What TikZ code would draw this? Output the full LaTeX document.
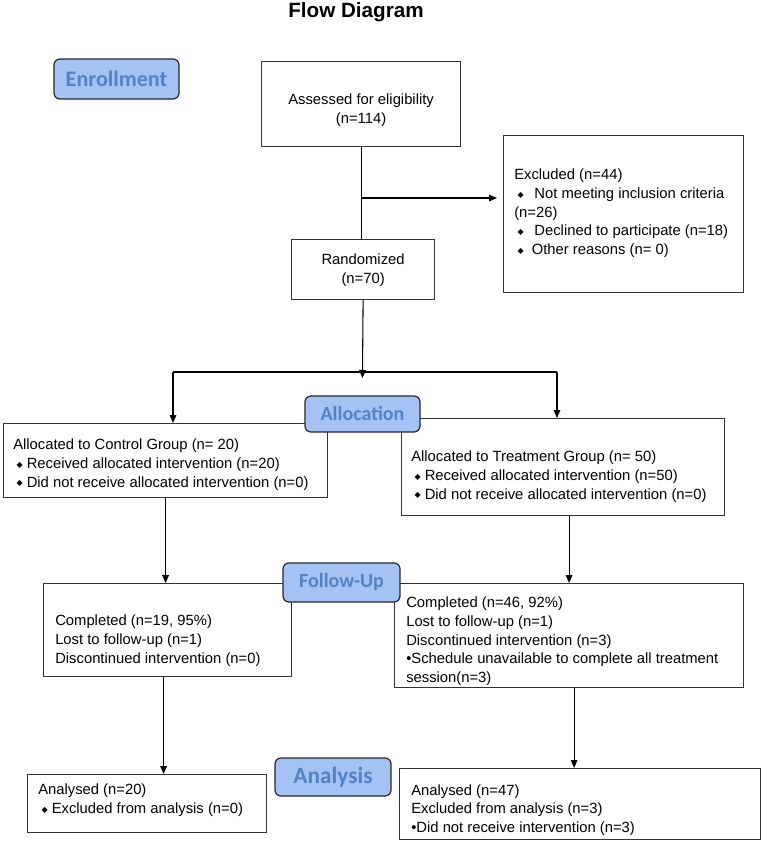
\documentclass[tikz,border=0pt]{standalone}
\usepackage{fontspec}
\setmainfont{Liberation Sans}
\newfontfamily\phasefont{Carlito}
\newfontfamily\symfont{DejaVu Sans}
\usetikzlibrary{arrows.meta, positioning, calc}
\definecolor{phaseblue}{RGB}{164, 194, 244}
\definecolor{phasetext}{RGB}{84, 130, 194}
\definecolor{boxgray}{RGB}{51, 51, 51}
\newcommand{\dmd}[1][3pt]{\hspace*{2.5pt}\raisebox{1pt}{\symfont\fontsize{6}{6}\selectfont ◆}\hspace{#1}}

\begin{document}
\begin{tikzpicture}[
    x=0.75pt, y=-0.75pt,
    box/.style={draw=boxgray, line width=0.9pt, anchor=north west, inner sep=0pt},
    phase/.style={draw=black!85, fill=phaseblue, rounded corners=4.5pt, line width=0.9pt, inner sep=0pt, text=phasetext, font=\phasefont\bfseries\fontsize{15}{15}\selectfont},
    body/.style={inner sep=0pt, align=left, font=\fontsize{11.1}{14}\selectfont},
    conn/.style={line width=0.8pt, -{Triangle[length=6pt, width=5pt]}},
    line/.style={line width=0.8pt}
]
    \useasboundingbox (0,0) rectangle (762,841);

    % Title
    \node[font=\bfseries\fontsize{15.5}{15.5}\selectfont] (title) at (356,12) {Flow Diagram};

    % Boxes
    \node[box, minimum width=149.25pt, minimum height=63.75pt] (assess) at (261,61) {};
    \node[box, minimum width=180pt, minimum height=117.75pt] (excl) at (503,135) {};
    \node[box, minimum width=107.25pt, minimum height=45pt] (rand) at (291,239) {};
    \node[box, minimum width=243pt, minimum height=55.5pt] (ctrl) at (3,423) {};
    \node[box, minimum width=242.25pt, minimum height=72.75pt] (treat) at (401,418) {};
    \node[box, minimum width=186pt, minimum height=69.75pt] (fuctrl) at (43,583) {};
    \node[box, minimum width=261.75pt, minimum height=78pt] (futreat) at (394,583) {};
    \node[box, minimum width=179.25pt, minimum height=43.5pt] (anctrl) at (27,774) {};
    \node[box, minimum width=270.75pt, minimum height=53.25pt] (antreat) at (399,768) {};

    % Box texts
    \node[body, align=center, below=24.75pt of assess.north] (assesstxt) {Assessed for eligibility\\(n=114)};
    \node[body, below right=25.5pt and 8.25pt of excl.north west] (excltxt) {Excluded (n=44)\\\dmd[8pt]Not meeting inclusion criteria\\(n=26)\\\dmd[8pt]Declined to participate (n=18)\\\dmd[6pt]Other reasons (n= 0)};
    \node[body, align=center, below=11.25pt of rand.north] (randtxt) {Randomized\\(n=70)};
    \node[body, below right=12pt and 7.5pt of ctrl.north west] (ctrltxt) {Allocated to Control Group (n= 20)\\\dmd Received allocated intervention (n=20)\\\dmd Did not receive allocated intervention (n=0)};
    \node[body, below right=24.75pt and 7.5pt of treat.north west] (treattxt) {Allocated to Treatment Group (n= 50)\\\dmd Received allocated intervention (n=50)\\\dmd Did not receive allocated intervention (n=0)};
    \node[body, below right=24pt and 9pt of fuctrl.north west] (fuctrltxt) {Completed (n=19, 95\%)\\Lost to follow-up (n=1)\\Discontinued intervention (n=0)};
    \node[body, below right=10.5pt and 9pt of futreat.north west] (futreattxt) {Completed (n=46, 92\%)\\Lost to follow-up (n=1)\\Discontinued intervention (n=3)\\•Schedule unavailable to complete all treatment\\session(n=3)};
    \node[body, below right=7.5pt and 8.25pt of anctrl.north west] (anctrltxt) {Analysed (n=20)\\\dmd Excluded from analysis (n=0)};
    \node[body, below right=12pt and 9pt of antreat.north west] (antreattxt) {Analysed (n=47)\\Excluded from analysis (n=3)\\•Did not receive intervention (n=3)};

    % Phase labels
    \node[phase, minimum width=93.75pt, minimum height=30pt, font=\phasefont\bfseries\fontsize{16.6}{16.6}\selectfont] (enroll) at (116.5,79) {Enrollment};
    \node[phase, minimum width=86.25pt, minimum height=27pt] (alloc) at (362.5,414) {Allocation};
    \node[phase, minimum width=87.75pt, minimum height=29.25pt] (follow) at (341.5,582.5) {Follow-Up};
    \node[phase, minimum width=87pt, minimum height=28.5pt, font=\phasefont\bfseries\fontsize{17.5}{17.5}\selectfont] (analysis) at (333,777) {Analysis};

    % Connectors
    \coordinate (branch) at (360.5,198);
    \coordinate (split) at (362.5,372);
    \coordinate (splitl) at (173,372);
    \coordinate (splitr) at (557,372);
    \draw[line] (assess.south) -- (assess.south |- rand.north);
    \draw[conn, shorten >=4.5pt] (branch) -- (branch -| excl.west);
    \draw[conn, shorten >=-4.5pt] (rand.south) -- (split);
    \draw[line] (splitl) -- (splitr);
    \draw[conn] (splitl) -- (splitl |- ctrl.north);
    \draw[conn] (splitr) -- (splitr |- treat.north);
    \draw[conn] (ctrl.south) -- (ctrl.south |- fuctrl.north);
    \draw[conn] (futreat.north |- treat.south) -- (futreat.north);
    \draw[conn] ([xshift=-3pt]fuctrl.south) -- ([xshift=-3pt]fuctrl.south |- anctrl.north);
    \draw[conn] ([xshift=3.75pt]futreat.south) -- ([xshift=3.75pt]futreat.south |- antreat.north);
\end{tikzpicture}
\end{document}
